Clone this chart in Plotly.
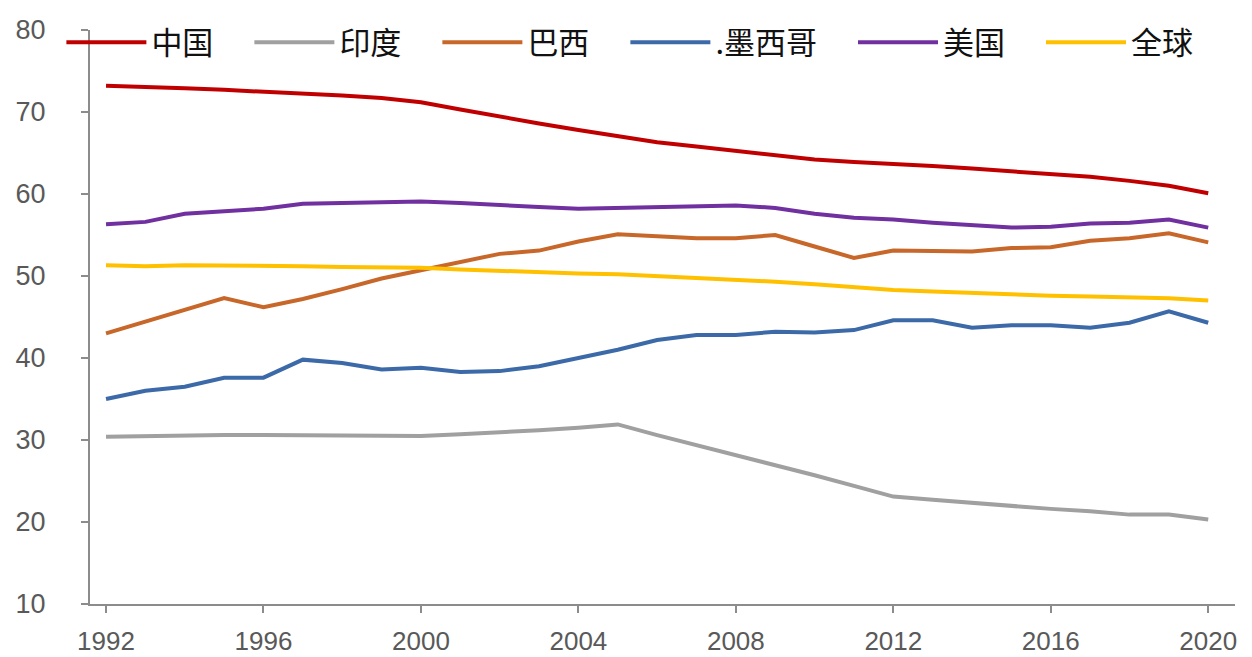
import plotly.graph_objects as go

years = list(range(1992, 2021))

china = [73.2, 73.1, 72.9, 72.7, 72.5, 72.3, 72.0, 71.7, 71.2, 70.3,
         69.4, 68.6, 67.8, 67.0, 66.3, 65.8, 65.3, 64.8, 64.2, 63.9,
         63.7, 63.4, 63.1, 62.8, 62.5, 62.1, 61.6, 61.0, 60.1]
india = [30.4, 30.5, 30.6, 30.6, 30.6, 30.6, 30.5, 30.5, 30.5, 30.7,
         30.9, 31.2, 31.5, 31.9, 30.6, 29.4, 28.2, 26.9, 25.7, 24.4,
         23.1, 22.7, 22.3, 22.0, 21.6, 21.3, 20.9, 20.9, 20.3]
brazil = [43.0, 44.4, 45.9, 47.3, 46.2, 47.2, 48.4, 49.7, 50.7, 51.7,
          52.7, 53.1, 54.2, 55.1, 54.8, 54.6, 54.6, 55.0, 53.6, 52.2,
          53.1, 53.1, 53.0, 53.4, 53.5, 54.3, 54.6, 55.2, 54.1]
mexico = [35.0, 36.0, 36.5, 37.6, 37.6, 39.8, 39.4, 38.6, 38.8, 38.3,
          38.4, 39.0, 40.0, 41.0, 42.2, 42.8, 42.8, 43.2, 43.1, 43.4,
          44.6, 44.6, 43.7, 44.0, 44.0, 43.7, 44.3, 45.7, 44.3]
usa = [56.3, 56.6, 57.6, 57.9, 58.2, 58.8, 58.9, 59.0, 59.1, 58.9,
       58.6, 58.4, 58.2, 58.3, 58.4, 58.4, 58.6, 58.3, 57.6, 57.1,
       56.9, 56.5, 56.2, 55.9, 56.0, 56.4, 56.5, 56.9, 55.9]
world = [51.3, 51.2, 51.3, 51.3, 51.2, 51.2, 51.1, 51.1, 51.0, 50.8,
         50.6, 50.5, 50.3, 50.2, 50.0, 49.8, 49.6, 49.3, 49.0, 48.6,
         48.3, 48.1, 47.9, 47.8, 47.6, 47.5, 47.4, 47.3, 47.0]

series_names = ["中国", "印度", "巴西", ".墨西哥", "美国", "全球"]
series_values = [china, india, brazil, mexico, usa, world]
series_colors = ["#C00000", "#A0A0A0", "#C8672A", "#3C6AA8", "#7030A0", "#FFC000"]

tick_years = [1992, 1996, 2000, 2004, 2008, 2012, 2016, 2020]
tick_text = [str(y) for y in tick_years]

fig = go.Figure()
for name, vals, col in zip(series_names, series_values, series_colors):
    # trailing ideographic space widens the legend entry like the reference
    fig.add_trace(go.Scatter(x=years, y=vals, name=name + "\u3000", mode="lines",
                             line=dict(color=col, width=4)))

axis_col = "#8C8C8C"
fig.update_layout(
    width=1252, height=657,
    margin=dict(l=90, r=17, t=30, b=53),
    paper_bgcolor="white", plot_bgcolor="white",
    font=dict(family="Liberation Sans, Arial, sans-serif", color="#595959"),
    legend=dict(orientation="h", x=-0.025, xanchor="left", y=1.025, yanchor="top",
                font=dict(family="Noto Sans CJK SC", size=31, color="#111111"),
                bgcolor="rgba(0,0,0,0)", itemwidth=80, tracegroupgap=0),
    showlegend=True,
)
fig.update_xaxes(range=[1991.593, 2020.68], tickvals=tick_years, ticktext=tick_text,
                 automargin=False,
                 showgrid=False, zeroline=False, showline=True, linecolor=axis_col,
                 linewidth=2, ticks="outside", ticklen=7, tickcolor=axis_col, tickwidth=2,
                 tickfont=dict(size=26, color="#595959"), ticklabelstandoff=6)
fig.update_yaxes(range=[10, 80], tickvals=[10, 20, 30, 40, 50, 60, 70, 80],
                 automargin=False,
                 showgrid=False, zeroline=False, showline=True, linecolor=axis_col,
                 linewidth=2, ticks="outside", ticklen=7, tickcolor=axis_col, tickwidth=2,
                 tickfont=dict(size=27, color="#595959"), ticklabelstandoff=30)

fig.write_html("out.html")
